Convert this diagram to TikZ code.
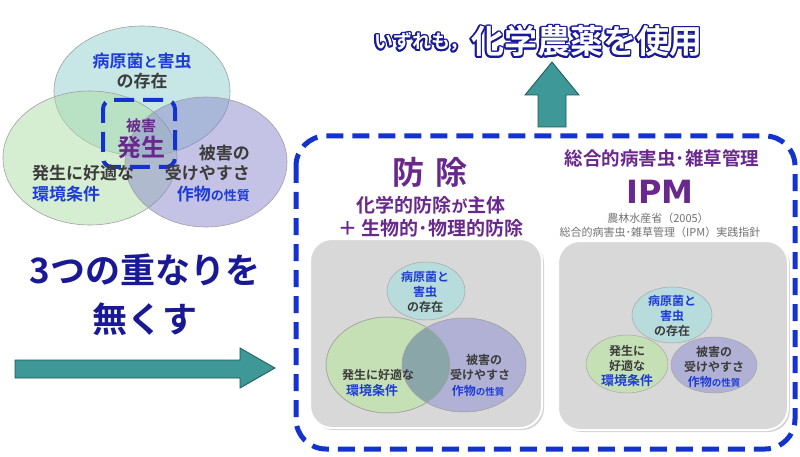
\documentclass[tikz,border=0pt]{standalone}
\usepackage{fontspec}
\setmainfont{Noto Sans CJK JP}[BoldFont={Noto Sans CJK JP Bold}]
\newfontfamily\dejavu{DejaVu Sans}
\usepackage[copies]{contour}
\contourlength{1.6pt}
\contournumber{16}
\usetikzlibrary{shadows}
\definecolor{navytxt}{RGB}{25,25,150}
\definecolor{bluetxt}{RGB}{30,60,215}
\definecolor{darktxt}{RGB}{60,60,60}
\definecolor{graytxt}{RGB}{115,115,115}
\definecolor{purptxt}{RGB}{105,40,140}
\definecolor{dashblue}{RGB}{20,50,205}
\definecolor{teal1}{RGB}{62,152,152}
\definecolor{teal2}{RGB}{30,85,85}
\definecolor{vtop}{RGB}{145,208,208}
\definecolor{vleft}{RGB}{172,222,165}
\definecolor{vright}{RGB}{140,136,205}
\definecolor{btop}{RGB}{184,220,220}
\definecolor{bleft}{RGB}{197,224,180}
\definecolor{bright}{RGB}{177,177,214}
\definecolor{bover}{RGB}{138,166,168}
\definecolor{boxgray}{RGB}{216,216,216}
\tikzset{
  vennA/.style={draw=gray!75, line width=0.6pt, fill opacity=0.5},
  vennB/.style={draw=gray!70, line width=0.5pt},
  jt/.style={inner sep=0pt, font=\fontsize{#1}{#1}\selectfont\bfseries},
  jt/.default=17,
  greybox/.style={fill=boxgray, draw=white, line width=2pt, rounded corners=22pt,
    drop shadow={opacity=0.35, shadow xshift=2pt, shadow yshift=-2pt}},
  arrowshape/.style={fill=teal1, draw=teal2, line width=0.8pt, line join=miter}
}
\begin{document}
\begin{tikzpicture}[x=1pt,y=-1pt]
\useasboundingbox[fill=white] (0,0) rectangle (800,457);

% ---- top-left Venn ----
\path[vennA, fill=vtop] (142,91) ellipse [x radius=88pt, y radius=65pt];
\path[vennA, fill=vleft] (90,158) ellipse [x radius=87pt, y radius=67pt];
\path[vennA, fill=vright] (206,162) ellipse [x radius=81pt, y radius=65pt];
\draw[dashblue, line width=4pt, dash pattern=on 20pt off 9pt, dash phase=6pt, rounded corners=9pt] (103,100) rectangle (175,167);
\node[jt=15, text=purptxt] (hg1) at (141,126) {被害};
\node[jt=24, text=purptxt] (hg2) at (141,147) {発生};
\node[jt, text=bluetxt] (t1) at (142,61) {病原菌{\fontsize{14}{14}\selectfont と}害虫};
\node[jt, text=darktxt] (t2) at (142,81) {の存在};
\node[jt, text=darktxt, anchor=west] (l1) at (32,173) {発生に好適な};
\node[jt, text=bluetxt, anchor=west] (l2) at (32,194) {環境条件};
\node[jt, text=darktxt, anchor=east] (r1) at (250,153) {被害の};
\node[jt, text=darktxt, anchor=east] (r2) at (250,173) {受けやすさ};
\node[jt, text=bluetxt, anchor=east] (r3) at (250,194) {作物{\fontsize{13}{13}\selectfont の性質}};

% ---- left message and arrow ----
\node[jt=35, text=navytxt] (m1) at (145,270) {3つの重なりを};
\node[jt=35, text=navytxt] (m2) at (145,319) {無くす};
\path[arrowshape] (15,360) -- (240,360) -- (240,348) -- (275,368) -- (240,388) -- (240,378) -- (15,378) -- cycle;

% ---- top title and up arrow ----
\node[inner sep=0pt, anchor=base west, text=white, font=\fontsize{19}{19}\selectfont\bfseries] (ti1) at (374,49) {\contour{navytxt}{いずれも，}};
\node[inner sep=0pt, anchor=base west, text=white, font=\fontsize{33}{33}\selectfont\bfseries] (ti2) at (471,54) {\contour{navytxt}{化学農薬を使用}};
\path[arrowshape] (538,127) -- (538,95) -- (525,95) -- (552,62) -- (579,95) -- (566,95) -- (566,127) -- cycle;

% ---- big dashed frame ----
\draw[dashblue, line width=5pt, dash pattern=on 17pt off 9pt, rounded corners=30pt] (296,136) rectangle (795,449);

% headings
\node[jt=32, text=purptxt] (h1) at (430,172) {防\hspace{11pt}除};
\node[jt=19, text=purptxt] (h2) at (431,205) {化学的防除{\fontsize{16}{16}\selectfont が}主体};
\node[jt=19, text=purptxt] (h3) at (431,228) {＋ 生物的･物理的防除};
\node[jt=18.5, text=purptxt] (h4) at (662,158) {総合的病害虫･雑草管理};
\node[inner sep=0pt, text=purptxt, font=\dejavu\fontsize{32}{32}\selectfont\bfseries] (ipm) at (660,192) {IPM};
\node[inner sep=0pt, text=graytxt, font=\fontsize{11}{11}\selectfont] (s1) at (658,218) {農林水産省（2005）};
\node[inner sep=0pt, text=graytxt, font=\fontsize{11}{11}\selectfont] (s2) at (660,232) {総合的病害虫･雑草管理（IPM）実践指針};

% ---- grey boxes ----
\path[greybox] (310,239) rectangle (542,428);
\path[greybox] (558,241) rectangle (788,430);

% left box Venn
\path[vennB, fill=btop] (426,291) ellipse [x radius=39pt, y radius=29pt];
\path[vennB, fill=bleft] (388,365) ellipse [x radius=62pt, y radius=48pt];
\path[vennB, fill=bright] (464,365) ellipse [x radius=62pt, y radius=47pt];
\begin{scope}
  \clip (388,365) ellipse [x radius=62pt, y radius=48pt];
  \path[fill=bover] (464,365) ellipse [x radius=62pt, y radius=47pt];
\end{scope}
\draw[gray!70, line width=0.5pt] (388,365) ellipse [x radius=62pt, y radius=48pt];
\draw[gray!70, line width=0.5pt] (464,365) ellipse [x radius=62pt, y radius=47pt];
\node[jt=12, text=bluetxt] (a1) at (425,277) {病原菌と};
\node[jt=12, text=bluetxt] (a2) at (425,292) {害虫};
\node[jt=12, text=darktxt] (a3) at (425,307) {の存在};
\node[jt=12, text=darktxt] (a4) at (378,375) {発生に好適な};
\node[jt=13, text=bluetxt] (a5) at (372,391) {環境条件};
\node[jt=12, text=darktxt] (a6) at (484,360) {被害の};
\node[jt=12, text=darktxt] (a7) at (480,375) {受けやすさ};
\node[jt=12, text=bluetxt] (a8) at (478,391) {作物{\fontsize{9.5}{9.5}\selectfont の性質}};

% right box separated circles
\path[vennB, fill=btop] (672,315) ellipse [x radius=40pt, y radius=28pt];
\path[vennB, fill=bleft] (627,364) ellipse [x radius=41pt, y radius=29pt];
\path[vennB, fill=bright] (714,365) ellipse [x radius=43pt, y radius=28pt];
\node[jt=12, text=bluetxt] (b1) at (672,301) {病原菌と};
\node[jt=12, text=bluetxt] (b2) at (672,316) {害虫};
\node[jt=12, text=darktxt] (b3) at (672,331) {の存在};
\node[jt=12, text=darktxt] (b4) at (627,351) {発生に};
\node[jt=12, text=darktxt] (b5) at (627,366) {好適な};
\node[jt=13, text=bluetxt] (b6) at (627,381) {環境条件};
\node[jt=12, text=darktxt] (b7) at (714,352) {被害の};
\node[jt=12, text=darktxt] (b8) at (714,367) {受けやすさ};
\node[jt=12, text=bluetxt] (b9) at (714,382) {作物{\fontsize{9.5}{9.5}\selectfont の性質}};
\end{tikzpicture}
\end{document}
